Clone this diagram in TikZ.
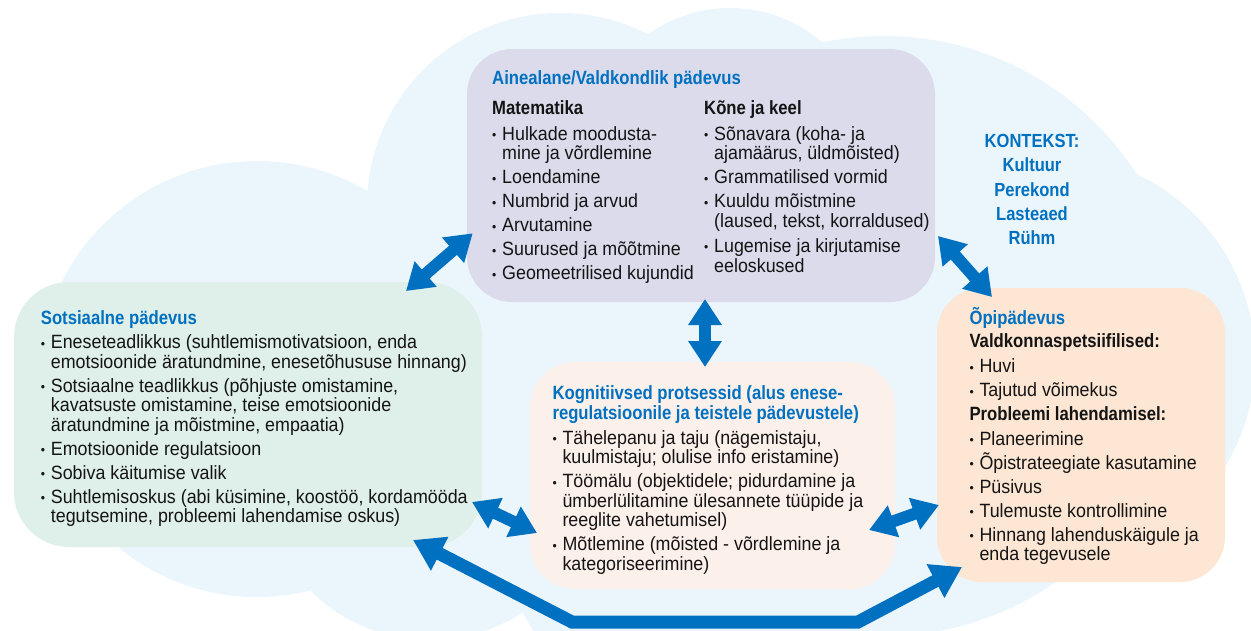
\documentclass[tikz,border=0pt]{standalone}
\usepackage{fontspec}
\setmainfont{Liberation Sans}[FakeStretch=0.93]
\newfontfamily\hdfont{Liberation Sans}[FakeStretch=0.87]
\usetikzlibrary{arrows.meta}
\definecolor{cloudc}{HTML}{EBF6FC}
\definecolor{purpc}{HTML}{DCDBEC}
\definecolor{greenc}{HTML}{DFEFE9}
\definecolor{pinkc}{HTML}{FCF0EB}
\definecolor{orangec}{HTML}{FDE6D3}
\definecolor{mblue}{HTML}{0070C0}
\definecolor{ink}{HTML}{141414}
\newcommand{\bul}{\makebox[10pt][l]{\raisebox{0.5pt}{\fontsize{13}{13}\selectfont •}}}
\newcommand{\cont}{\hspace*{10pt}}
\newcommand{\fs}{\rule{0pt}{18pt}}
\newcommand{\hd}[1]{{\hdfont\bfseries\color{mblue}#1}}
\newcommand{\subhd}[1]{{\hdfont\bfseries #1}}
\newcommand{\bodyfnt}{\fontsize{19.2}{19.6}\selectfont}
\newcommand{\ctxfnt}{\hdfont\bfseries\fontsize{19}{24.25}\selectfont}
\tikzset{
  box/.style={rectangle, rounded corners=45pt, inner sep=0pt, draw=none},
  txt/.style={anchor=north west, inner sep=0pt, align=left, text=ink, font=\bodyfnt},
  ctxt/.style={anchor=north, inner sep=0pt, align=center, text=mblue, font=\ctxfnt},
  dbl/.style={draw=mblue, line width=12pt,
    {Triangle[width=32pt,length=26pt]}-{Triangle[width=32pt,length=26pt]}},
  poly/.style={draw=mblue, line width=13pt, line join=miter,
    {Triangle[width=36pt,length=30pt]}-{Triangle[width=36pt,length=30pt]}}
}
\begin{document}
\lineskiplimit=-100pt
\begin{tikzpicture}[x=1pt,y=-1pt]
\useasboundingbox (0,0) rectangle (1251,630);
% cloud background
\begin{scope}
\clip (0,0) rectangle (1251,630);
\fill[cloudc] (257,379) circle[radius=218];
\fill[cloudc] (560,206) circle[radius=193];
\fill[cloudc] (730,149) circle[radius=141];
\fill[cloudc] (884,336) circle[radius=300];
\fill[cloudc] (1050,360) circle[radius=205];
\fill[cloudc] (950,430) circle[radius=185];
\fill[cloudc] (430,470) circle[radius=170];
\fill[cloudc] (700,520) circle[radius=200];
\end{scope}
% boxes
\node[box, fill=purpc, minimum width=468pt, minimum height=253pt] (ain) at (701,175.5) {};
\node[box, fill=greenc, rounded corners=55pt, minimum width=468pt, minimum height=265pt] (sot) at (248,414.5) {};
\node[box, fill=pinkc, minimum width=365pt, minimum height=227pt] (kog) at (712.5,475.5) {};
\node[box, fill=orangec, minimum width=288pt, minimum height=294pt] (opi) at (1081,435) {};
% texts
\node[txt] (ainA) at (492,66.3) {\fs\hd{Ainealane/Valdkondlik pädevus}\\[10.4pt]
\subhd{Matematika}\\[6.1pt]
\bul Hulkade moodusta-\\
\cont mine ja võrdlemine\\[4.4pt]
\bul Loendamine\\[4.4pt]
\bul Numbrid ja arvud\\[4.4pt]
\bul Arvutamine\\[4.4pt]
\bul Suurused ja mõõtmine\\[4.4pt]
\bul Geomeetrilised kujundid};
\node[txt] (ainB) at (704,96.3) {\fs\subhd{Kõne ja keel}\\[6.1pt]
\bul Sõnavara (koha- ja\\
\cont ajamäärus, üldmõisted)\\[4.4pt]
\bul Grammatilised vormid\\[4.4pt]
\bul Kuuldu mõistmine\\
\cont (laused, tekst, korraldused)\\[5.4pt]
\bul Lugemise ja kirjutamise\\
\cont eeloskused};
\node[txt] (sotT) at (40.7,306.3) {\fs\hd{Sotsiaalne pädevus}\\[4.4pt]
\bul Eneseteadlikkus (suhtlemismotivatsioon, enda\\
\cont emotsioonide äratundmine, enesetõhususe hinnang)\\[4.4pt]
\bul Sotsiaalne teadlikkus (põhjuste omistamine,\\
\cont kavatsuste omistamine, teise emotsioonide\\
\cont äratundmine ja mõistmine, empaatia)\\[4.4pt]
\bul Emotsioonide regulatsioon\\[4.4pt]
\bul Sobiva käitumise valik\\[4.4pt]
\bul Suhtlemisoskus (abi küsimine, koostöö, kordamööda\\
\cont tegutsemine, probleemi lahendamise oskus)};
\node[txt] (kogT) at (552.3,381.3) {\fs\hd{Kognitiivsed protsessid (alus enese-}\\
\hd{regulatsioonile ja teistele pädevustele)}\\[5.4pt]
\bul Tähelepanu ja taju (nägemistaju,\\
\cont kuulmistaju; olulise info eristamine)\\[4.4pt]
\bul Töömälu (objektidele; pidurdamine ja\\
\cont ümberlülitamine ülesannete tüüpide ja\\
\cont reeglite vahetumisel)\\[4.4pt]
\bul Mõtlemine (mõisted - võrdlemine ja\\
\cont kategoriseerimine)};
\node[txt] (opiT) at (969.3,306.3) {\fs\hd{Õpipädevus}\\[3.8pt]
\subhd{Valdkonnaspetsiifilised:}\\[5.4pt]
\bul Huvi\\[4.4pt]
\bul Tajutud võimekus\\[3.8pt]
\subhd{Probleemi lahendamisel:}\\[5.4pt]
\bul Planeerimine\\[4.4pt]
\bul Õpistrateegiate kasutamine\\[4.4pt]
\bul Püsivus\\[4.4pt]
\bul Tulemuste kontrollimine\\[4.4pt]
\bul Hinnang lahenduskäigule ja\\
\cont enda tegevusele};
\node[ctxt] (ctx) at (1032,129.3) {\fs KONTEKST:\\ Kultuur\\ Perekond\\ Lasteaed\\ Rühm};
% arrow end points
\coordinate (tlA) at (406,291);
\coordinate (tlB) at (472.7,233.3);
\coordinate (trA) at (938,236);
\coordinate (trB) at (992,297);
\coordinate (vA) at (705,299);
\coordinate (vB) at (705,367);
\coordinate (lcA) at (472,502);
\coordinate (lcB) at (537,533);
\coordinate (rcA) at (869,530);
\coordinate (rcB) at (939,505);
\coordinate (pL) at (413,540);
\coordinate (pA) at (572,622);
\coordinate (pB) at (858,622);
\coordinate (pR) at (962,567);
% arrows
\draw[dbl] (tlA) -- (tlB);
\draw[dbl] (trA) -- (trB);
\draw[dbl] (vA) -- (vB);
\draw[dbl] (lcA) -- (lcB);
\draw[dbl] (rcA) -- (rcB);
\draw[poly] (pL) -- (pA) -- (pB) -- (pR);
\end{tikzpicture}
\end{document}
